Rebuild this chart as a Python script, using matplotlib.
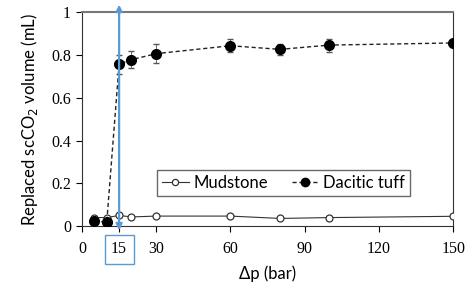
import numpy as np
import matplotlib.pyplot as plt
from matplotlib.lines import Line2D

dp = [5, 10, 15, 20, 30, 60, 80, 100, 150]
mudstone = [0.040, 0.040, 0.050, 0.043, 0.047, 0.047, 0.036, 0.040, 0.046]
tuff = [0.025, 0.018, 0.757, 0.778, 0.806, 0.843, 0.826, 0.846, 0.856]
tuff_err = [0.0, 0.0, 0.045, 0.040, 0.045, 0.030, 0.025, 0.030, 0.010]
mud_err = [0.0, 0.0, 0.0, 0.0, 0.0, 0.0, 0.0, 0.006, 0.0]
xticks = [0, 15, 30, 60, 90, 120, 150]
yticks = [0, 0.2, 0.4, 0.6, 0.8, 1]
ytick_labels = ['0', '0.2', '0.4', '0.6', '0.8', '1']
marked_dp = 15

tick_font = 'Liberation Serif'
label_font = 'Lato'

fig = plt.figure(figsize=(4.74, 2.96), dpi=100)
ax = fig.add_axes([0.173, 0.236, 0.783, 0.723])

mud_style = dict(color='#333333', lw=0.8, marker='o', ms=5, mfc='white',
                 mec='#333333', mew=0.9)
tuff_style = dict(color='#222222', lw=1.0, ls=(0, (3, 2)), marker='o', ms=7,
                  mfc='black', mec='black')

ax.errorbar(dp, mudstone, yerr=mud_err, capsize=2, elinewidth=0.6,
            zorder=3, **mud_style)
ax.errorbar(dp, tuff, yerr=tuff_err, capsize=2, elinewidth=0.6,
            ecolor='#555555', zorder=3, **tuff_style)

ax.annotate('', xy=(marked_dp, 1.035), xytext=(marked_dp, -0.02),
            arrowprops=dict(arrowstyle='<|-|>', color='#5b9bd5', lw=1.6,
                            mutation_scale=9, shrinkA=0, shrinkB=0),
            annotation_clip=False, zorder=4)

ax.set_xlim(0, 150)
ax.set_ylim(0, 1)
ax.set_xticks(xticks)
ax.set_yticks(yticks)
ax.set_yticklabels(ytick_labels)
for lab in ax.get_xticklabels() + ax.get_yticklabels():
    lab.set_fontfamily(tick_font)
    lab.set_fontsize(11.5)
ax.tick_params(axis='x', direction='out', length=4, width=0.8, pad=7)
ax.tick_params(axis='y', direction='out', length=4, width=0.8, pad=4)
ax.get_xticklabels()[1].set_bbox(dict(boxstyle='square,pad=0.4', fc='white',
                                      ec='#5b9bd5', lw=1.0))

ax.spines['top'].set_color('#777777')
ax.spines['top'].set_linewidth(1.5)
ax.spines['right'].set_color('#333333')
ax.spines['left'].set_color('#333333')
ax.spines['bottom'].set_color('#333333')

ax.set_xlabel('Δp (bar)', fontfamily=label_font, fontsize=12, labelpad=6)
ax.set_ylabel('Replaced scCO$_2$ volume (mL)', fontfamily=label_font,
              fontsize=12, labelpad=8)

handles = [Line2D([], [], **{**mud_style, 'ms': 4.5}),
           Line2D([], [], **{**tuff_style, 'ms': 6})]
leg = ax.legend(handles, ['Mudstone', 'Dacitic tuff'], loc='upper left',
                bbox_to_anchor=(0.202, 0.262), ncol=2, frameon=True,
                fancybox=False, edgecolor='#444444',
                prop={'family': label_font, 'size': 12}, handlelength=1.6,
                columnspacing=1.4, borderpad=0.3, handletextpad=0.3,
                borderaxespad=0)
leg.get_frame().set_linewidth(1.0)

fig.savefig('out.png', dpi=100)
